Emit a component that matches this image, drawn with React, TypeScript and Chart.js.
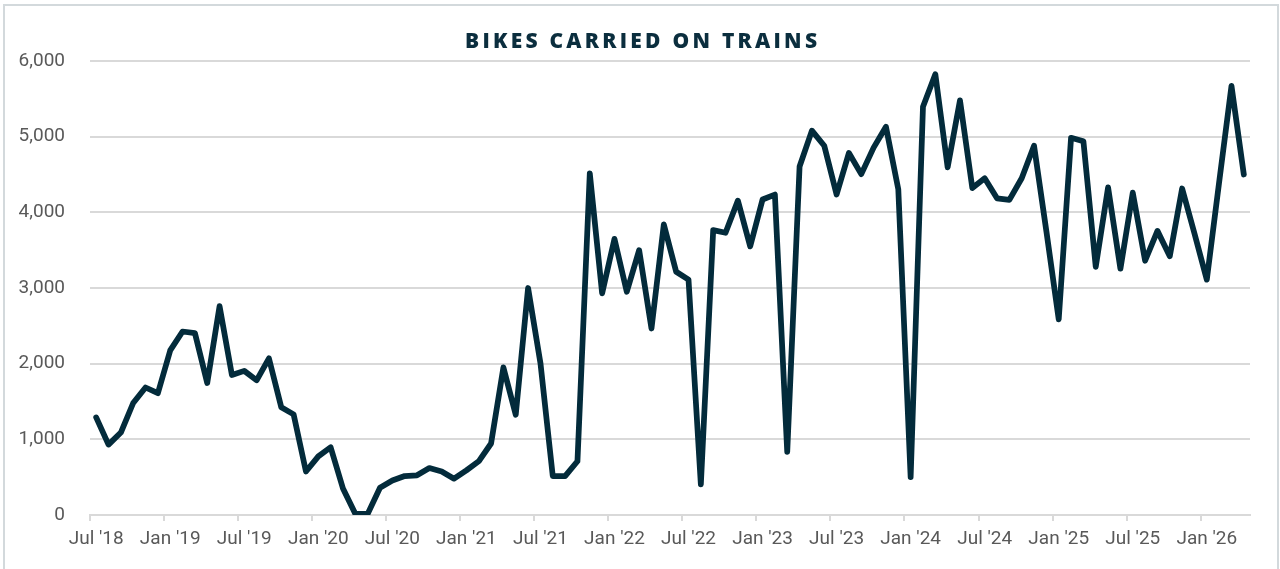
import React, { useEffect, useRef } from 'react';
import { Chart, registerables } from 'chart.js';

Chart.register(...registerables);

const TITLE = 'BIKES CARRIED ON TRAINS';

// Monthly categories, Jul 2018 – Apr 2026
const categories: string[] = [
  "Jul '18", "Aug '18", "Sep '18", "Oct '18", "Nov '18", "Dec '18",
  "Jan '19", "Feb '19", "Mar '19", "Apr '19", "May '19", "Jun '19",
  "Jul '19", "Aug '19", "Sep '19", "Oct '19", "Nov '19", "Dec '19",
  "Jan '20", "Feb '20", "Mar '20", "Apr '20", "May '20", "Jun '20",
  "Jul '20", "Aug '20", "Sep '20", "Oct '20", "Nov '20", "Dec '20",
  "Jan '21", "Feb '21", "Mar '21", "Apr '21", "May '21", "Jun '21",
  "Jul '21", "Aug '21", "Sep '21", "Oct '21", "Nov '21", "Dec '21",
  "Jan '22", "Feb '22", "Mar '22", "Apr '22", "May '22", "Jun '22",
  "Jul '22", "Aug '22", "Sep '22", "Oct '22", "Nov '22", "Dec '22",
  "Jan '23", "Feb '23", "Mar '23", "Apr '23", "May '23", "Jun '23",
  "Jul '23", "Aug '23", "Sep '23", "Oct '23", "Nov '23", "Dec '23",
  "Jan '24", "Feb '24", "Mar '24", "Apr '24", "May '24", "Jun '24",
  "Jul '24", "Aug '24", "Sep '24", "Oct '24", "Nov '24", "Dec '24",
  "Jan '25", "Feb '25", "Mar '25", "Apr '25", "May '25", "Jun '25",
  "Jul '25", "Aug '25", "Sep '25", "Oct '25", "Nov '25", "Dec '25",
  "Jan '26", "Feb '26", "Mar '26", "Apr '26",
];

// Bikes carried per month
const bikesCarried: number[] = [
  // Jul–Dec 2018
  1290, 930, 1090, 1480, 1685, 1610,
  // 2019
  2175, 2425, 2405, 1745, 2760, 1850, 1905, 1780, 2070, 1425, 1330, 575,
  // 2020
  775, 895, 350, 15, 15, 360, 455, 515, 525, 620, 575, 480,
  // 2021
  590, 710, 945, 1950, 1325, 3000, 2010, 515, 515, 710, 4515, 2930,
  // 2022
  3650, 2950, 3500, 2465, 3840, 3215, 3110, 405, 3765, 3730, 4155, 3550,
  // 2023
  4170, 4235, 835, 4605, 5080, 4880, 4235, 4785, 4505, 4855, 5130, 4305,
  // 2024
  500, 5395, 5825, 4595, 5480, 4320, 4450, 4185, 4165, 4450, 4880, 3750,
  // 2025
  2585, 4985, 4940, 3280, 4330, 3255, 4260, 3360, 3755, 3420, 4315, 3720,
  // Jan–Apr 2026
  3110, 4400, 5670, 4500,
];

const yTicks = { min: 0, max: 6000, step: 1000 };

const LINE_COLOR = '#032b3b';
const TITLE_COLOR = '#0b2e3e';
const GRID_COLOR = '#d9d9d9';
const LABEL_COLOR = '#595959';
const FRAME_COLOR = '#d3d9dc';
const FONT_FAMILY = 'Roboto, "Liberation Sans", sans-serif';

const isLabelled = (label: string) => label.startsWith('Jan') || label.startsWith('Jul');

const framePlugin = {
  id: 'frameAndTitle',
  beforeDraw(chart: any) {
    const { ctx } = chart;
    ctx.save();
    ctx.fillStyle = '#ffffff';
    ctx.fillRect(0, 0, chart.width, chart.height);
    ctx.strokeStyle = FRAME_COLOR;
    ctx.lineWidth = 2;
    ctx.strokeRect(4, 5, 1274, 640);
    ctx.restore();
  },
  afterDraw(chart: any) {
    const { ctx } = chart;
    ctx.save();
    ctx.font = '800 21px "Open Sans", sans-serif';
    ctx.fillStyle = TITLE_COLOR;
    ctx.textBaseline = 'alphabetic';
    ctx.textAlign = 'left';
    const targetWidth = 352;
    (ctx as any).letterSpacing = '0px';
    const w0 = ctx.measureText(TITLE).width;
    const spacing = Math.max(0, (targetWidth - w0) / (TITLE.length - 1));
    (ctx as any).letterSpacing = spacing + 'px';
    ctx.fillText(TITLE, 641 - targetWidth / 2, 47.5);
    ctx.restore();
  },
};

export default function App() {
  const canvasRef = useRef<HTMLCanvasElement | null>(null);

  useEffect(() => {
    if (!canvasRef.current) return;
    const chart = new Chart(canvasRef.current, {
      type: 'line',
      data: {
        labels: categories,
        datasets: [
          {
            label: 'Bikes carried',
            data: bikesCarried,
            borderColor: LINE_COLOR,
            backgroundColor: LINE_COLOR,
            borderWidth: 5.75,
            pointRadius: 0,
            pointHoverRadius: 0,
            tension: 0,
            fill: false,
            borderJoinStyle: 'round',
            borderCapStyle: 'round',
          },
        ],
      },
      options: {
        animation: false,
        responsive: false,
        devicePixelRatio: 1,
        layout: { padding: { top: 61, right: 30, left: 0, bottom: 0 } },
        plugins: {
          legend: { display: false },
          title: { display: false },
          tooltip: { enabled: false },
        },
        scales: {
          x: {
            type: 'category',
            offset: true,
            grid: {
              offset: true,
              drawOnChartArea: false,
              drawTicks: true,
              tickLength: 6,
              lineWidth: 2,
              color: (ctx: any) =>
                isLabelled(categories[ctx.index] ?? '') ? GRID_COLOR : 'rgba(0,0,0,0)',
            },
            border: { display: true, color: GRID_COLOR, width: 2 },
            ticks: {
              autoSkip: false,
              maxRotation: 0,
              minRotation: 0,
              padding: 7,
              color: LABEL_COLOR,
              font: { family: FONT_FAMILY, size: 19 },
              callback: function (this: any, value: any, index: number) {
                const lab = categories[index];
                return isLabelled(lab) ? lab : '';
              },
            },
            afterFit: (scale: any) => {
              scale.height = 54;
            },
          },
          y: {
            min: yTicks.min,
            max: yTicks.max,
            grid: {
              color: GRID_COLOR,
              lineWidth: 2,
              drawTicks: false,
            },
            border: { display: false },
            ticks: {
              stepSize: yTicks.step,
              padding: 25,
              color: LABEL_COLOR,
              font: { family: FONT_FAMILY, size: 19 },
              callback: (v: any) => Number(v).toLocaleString('en-US'),
            },
            afterFit: (scale: any) => {
              scale.width = 90;
            },
          },
        },
      },
      plugins: [framePlugin],
    });
    return () => chart.destroy();
  }, []);

  return (
    <div style={{ position: 'fixed', left: 0, top: 0, width: 1280, height: 569, background: '#fff' }}>
      <canvas ref={canvasRef} width={1280} height={569} style={{ display: 'block', width: 1280, height: 569 }} />
    </div>
  );
}
